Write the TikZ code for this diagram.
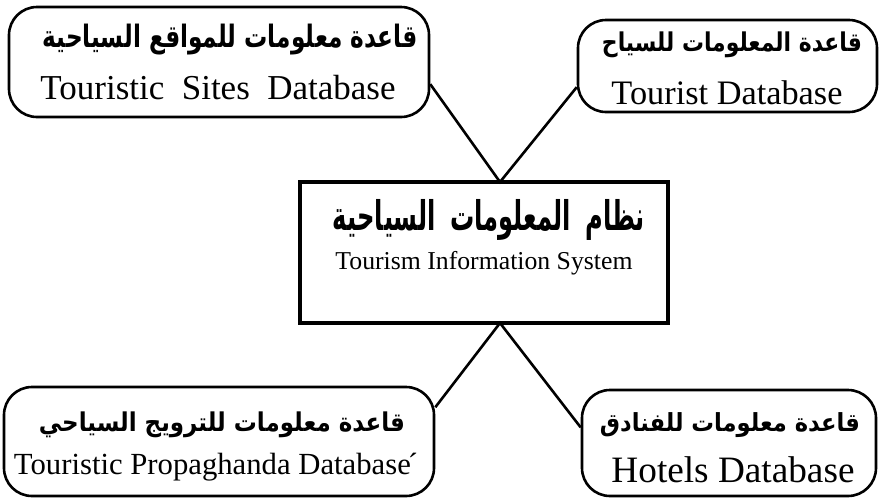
\documentclass[tikz,border=0pt]{standalone}
\usepackage{fontspec}
\setmainfont{Liberation Serif}
\newfontfamily\arabicfont[Script=Arabic]{DejaVu Sans}
\TeXXeTstate=1
\begin{document}
\begin{tikzpicture}[x=1pt,y=-1pt,
  dbbox/.style={draw=black,line width=2.6pt,rounded corners=28pt,inner sep=0pt},
  sysbox/.style={draw=black,line width=4pt,inner sep=0pt},
  link/.style={draw=black,line width=2.6pt},
  txt/.style={inner sep=0pt,text=black}]
\useasboundingbox[fill=white] (0,0) rectangle (881,499);
% boxes
\node[dbbox,minimum width=420pt,minimum height=110pt] (tl) at (219,62) {};
\node[dbbox,minimum width=299pt,minimum height=92pt] (tr) at (727.5,66) {};
\node[sysbox,minimum width=368pt,minimum height=141pt] (c) at (484,252.5) {};
\node[dbbox,minimum width=430pt,minimum height=109pt] (bl) at (219,441.5) {};
\node[dbbox,minimum width=294pt,minimum height=106pt] (br) at (729,443) {};
% texts
\node[txt] (tlar) at (230,40) {\resizebox*{375pt}{31pt}{\arabicfont\bfseries\beginR قاعدة معلومات للمواقع السياحية\endR}};
\node[txt] (tlen) at (218,88) {\resizebox{355pt}{!}{Touristic\ \ Sites\ \ Database}};
\node[txt] (trar) at (732,45) {\resizebox*{260pt}{26pt}{\arabicfont\bfseries\beginR قاعدة المعلومات للسياح\endR}};
\node[txt] (tren) at (727,93) {\resizebox{231pt}{!}{Tourist Database}};
\node[txt] (car) at (489,220) {\resizebox*{312pt}{41pt}{\arabicfont\bfseries\beginR نظام\hspace*{0.6em}المعلومات\hspace*{0.6em}السياحية\endR}};
\node[txt] (cen) at (484,263) {\resizebox{297pt}{!}{Tourism Information System}};
\node[txt] (blar) at (222,425) {\resizebox*{366pt}{26pt}{\arabicfont\bfseries\beginR قاعدة معلومات للترويج السياحي\endR}};
\node[txt] (blen) at (216,467) {\resizebox{404pt}{!}{Touristic Propaghanda Database\kern-1pt´}};
\node[txt] (brar) at (730,425) {\resizebox*{260pt}{25pt}{\arabicfont\bfseries\beginR قاعدة معلومات للفنادق\endR}};
\node[txt] (bren) at (733,470) {\resizebox{243pt}{!}{Hotels Database}};
% connectors
\coordinate (ctop) at (500,182);
\coordinate (cbot) at (500,323);
\draw[link] (tl.-6) -- (ctop) -- (tr.188);
\draw[link] (bl.9) -- (cbot) -- (br.174);
\end{tikzpicture}
\end{document}
